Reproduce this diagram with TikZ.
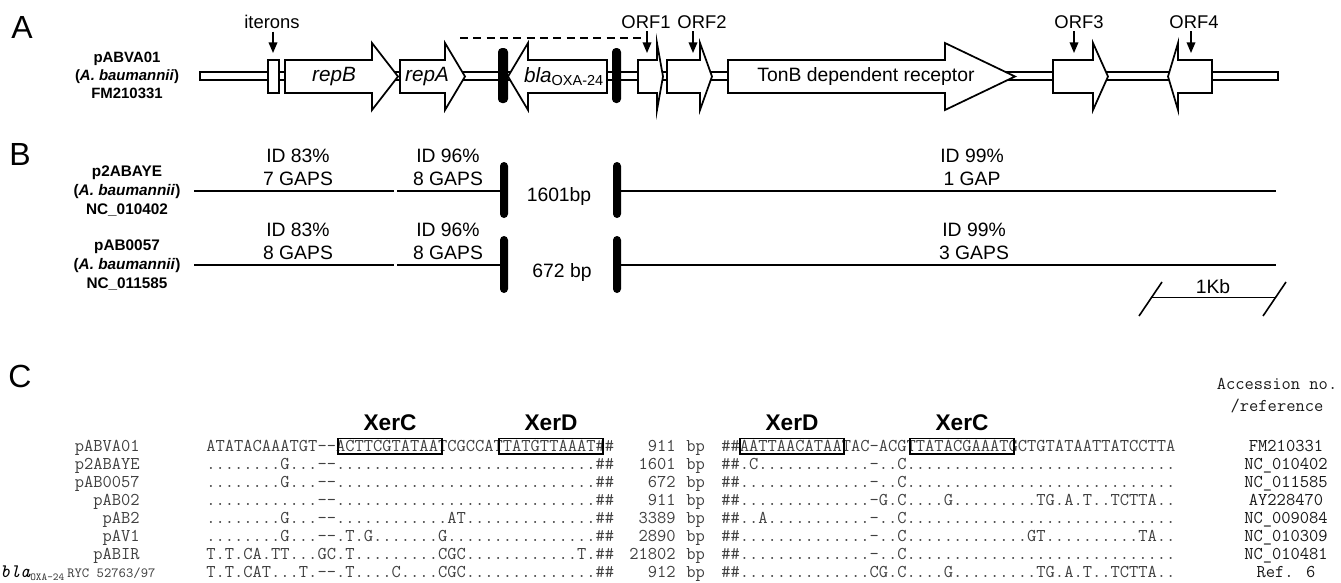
\documentclass[tikz,border=0pt]{standalone}
\usepackage{fontspec}
\setmainfont{Liberation Sans}
\usetikzlibrary{arrows.meta,calc}
\ExplSyntaxOn
\cs_new:Npn \seqdot #1 { \prg_replicate:nn {#1} {.} }
\ExplSyntaxOff
\newcommand\garR[3]{\draw[gene] (#1,60) -- (#2,60) -- (#2,43) -- (#3,76.5) -- (#2,110) -- (#2,93) -- (#1,93) -- cycle;}
\newcommand\garL[3]{\draw[gene] (#3,60) -- (#2,60) -- (#2,43) -- (#1,76.5) -- (#2,110) -- (#2,93) -- (#3,93) -- cycle;}
\tikzset{
 gene/.style={draw=black,line width=1.3pt,fill=white,line join=miter,miter limit=30},
 bb/.style={draw=black,line width=1.1pt,fill=white},
 sitebar/.style={fill=black,rounded corners=3pt},
 toplbl/.style={font=\fontsize{13.8}{16}\selectfont,inner sep=0},
 gtxt/.style={font=\fontsize{15.5}{17}\selectfont,inner sep=0},
 pointer/.style={line width=1.1pt,-{Triangle[length=8pt,width=6.5pt]}},
 plas/.style={font=\fontsize{11.2}{13.5}\selectfont\bfseries,align=center,inner sep=0},
 plasB/.style={font=\fontsize{11.5}{14}\selectfont\bfseries,align=center,inner sep=0},
 panel/.style={font=\fontsize{24}{26}\selectfont,inner sep=0},
 blbl/.style={font=\fontsize{14.5}{17}\selectfont,inner sep=0,align=center},
 bline/.style={line width=1.2pt},
 seq/.style={font=\fontsize{13.5}{15}\selectfont\ttfamily,text=black!75,inner sep=0,anchor=base west},
 seqe/.style={seq,anchor=base east},
 acc/.style={seq,text=black!90,anchor=base},
 sitebox/.style={draw=black,line width=1.4pt},
 xer/.style={font=\fontsize{17}{19}\selectfont\bfseries,inner sep=0},
}
\begin{document}
\begin{tikzpicture}[x=0.75pt,y=-0.75pt]
\useasboundingbox (0,0) rectangle (1341,582);
% ---------- panel letters
\node[panel] (pA) at (22,27) {A};
\node[panel] (pB) at (20,154) {B};
\node[panel] (pC) at (20,376) {C};
% ---------- panel A
\node[plas] (labA) at (127,75.5) {pABVA01\\(\textit{A. baumannii})\\FM210331};
\draw[bb] (200,72) rectangle (1278,80);
\draw[gene] (268,60) rectangle (279,93);
\garR{285}{372}{398}
\garR{400}{445}{465}
\garL{508}{528}{607}
\garR{638}{657}{663}
\garR{667}{700}{712}
\garR{728}{945}{1015}
\garR{1053}{1093}{1108}
\garL{1168}{1178}{1212}
\fill[sitebar] (498,48) rectangle (508,103);
\fill[sitebar] (612,48) rectangle (621,103);
\node[gtxt] (tB) at (334,76.5) {\textit{repB}};
\node[gtxt] (tA) at (427,76.5) {\textit{repA}};
\node[gtxt] (tO) at (564,76.5) {\textit{bla}\textsubscript{OXA-24}};
\node[gtxt,font=\fontsize{14.5}{17}\selectfont] (tT) at (866,76.5) {TonB dependent receptor};
\draw[line width=1.1pt,dash pattern=on 6pt off 4pt] (460,38) -- (643,38);
\node[toplbl] (it) at (272,22) {iterons};
\node[toplbl] (o1) at (646,22) {ORF1};
\node[toplbl] (o2) at (702,22) {ORF2};
\node[toplbl] (o3) at (1079,22) {ORF3};
\node[toplbl] (o4) at (1194,22) {ORF4};
\coordinate (itp) at (273,53);
\coordinate (o1p) at (647,53);
\coordinate (o2p) at (693,53);
\coordinate (o3p) at (1074,53);
\coordinate (o4p) at (1191,53);
\draw[pointer] ([yshift=-2pt]it.south -| itp) -- (itp);
\draw[pointer] ([yshift=-2pt]o1.south -| o1p) -- (o1p);
\draw[pointer] ([yshift=-2pt]o2.south -| o2p) -- (o2p);
\draw[pointer] ([yshift=-2pt]o3.south -| o3p) -- (o3p);
\draw[pointer] ([yshift=-2pt]o4.south -| o4p) -- (o4p);
% ---------- panel B
\node[plasB] (labB1) at (127,191) {p2ABAYE\\(\textit{A. baumannii})\\NC\_010402};
\node[plasB] (labB2) at (127,265) {pAB0057\\(\textit{A. baumannii})\\NC\_011585};
\foreach \y/\t/\b in {191/162/218, 265/236/293}{
  \draw[bline] (194,\y) -- (394,\y);
  \draw[bline] (397,\y) -- (500,\y);
  \draw[bline] (621,\y) -- (1276,\y);
  \fill[sitebar] (500,\t) rectangle (508,\b);
  \fill[sitebar] (613,\t) rectangle (621,\b);
}
\node[blbl] (b11) at (298,167.5) {ID 83\%\\7 GAPS};
\node[blbl] (b12) at (448,167.5) {ID 96\%\\8 GAPS};
\node[blbl] (b13) at (559,196) {1601bp};
\node[blbl] (b14) at (972,167.5) {ID 99\%\\1 GAP};
\node[blbl] (b21) at (298,241.5) {ID 83\%\\8 GAPS};
\node[blbl] (b22) at (448,241.5) {ID 96\%\\8 GAPS};
\node[blbl] (b23) at (562,272) {672 bp};
\node[blbl] (b24) at (974,241.5) {ID 99\%\\3 GAPS};
% scale bar
\node[blbl] (kb) at (1213,287) {1Kb};
\coordinate (sl1a) at (1139,316); \coordinate (sl1b) at (1162,282);
\coordinate (sl2a) at (1263,316); \coordinate (sl2b) at (1286,282);
\draw[bline] (sl1a) -- (sl1b);
\draw[bline] (sl2a) -- (sl2b);
\draw[bline] ($(sl1a)!0.55!(sl1b)$) -- ($(sl2a)!0.55!(sl2b)$);
% ---------- panel C
\node[acc] (h1) at (1277,389) {Accession no.};
\node[acc] (h2) at (1277,411) {/reference};
\node[xer] (xc1) at (390,423) {XerC};
\node[xer] (xd1) at (551,423) {XerD};
\node[xer] (xd2) at (792,423) {XerD};
\node[xer] (xc2) at (962,423) {XerC};
% names
\node[seqe] (n1) at (140,451) {pABVA01};
\node[seqe] (n2) at (140,469.1) {p2ABAYE};
\node[seqe] (n3) at (140,487.2) {pAB0057};
\node[seqe] (n4) at (140,505.3) {pAB02};
\node[seqe] (n5) at (140,523.4) {pAB2};
\node[seqe] (n6) at (140,541.5) {pAV1};
\node[seqe] (n7) at (140,559.6) {pABIR};
\node[seq] (n8) at (0,577.7) {{\color{black}\fontsize{14.3}{15}\selectfont\itshape bla}\raisebox{-2pt}{\fontsize{8}{9}\selectfont OXA-24}\,{\fontsize{10.5}{12}\selectfont RYC 52763/97}};
% left block
\node[seq] (l1) at (206,451) {ATATACAAATGT--ACTTCGTATAATCGCCATTATGTTAAAT\#\#};
\node[seq] (l2) at (206,469.1) {\seqdot{8}G\seqdot{3}--\seqdot{28}\#\#};
\node[seq] (l3) at (206,487.2) {\seqdot{8}G\seqdot{3}--\seqdot{28}\#\#};
\node[seq] (l4) at (206,505.3) {\seqdot{12}--\seqdot{28}\#\#};
\node[seq] (l5) at (206,523.4) {\seqdot{8}G\seqdot{3}--\seqdot{12}AT\seqdot{14}\#\#};
\node[seq] (l6) at (206,541.5) {\seqdot{8}G\seqdot{3}--.T.G\seqdot{7}G\seqdot{16}\#\#};
\node[seq] (l7) at (206,559.6) {T.T.CA.TT...GC.T\seqdot{9}CGC\seqdot{12}T.\#\#};
\node[seq] (l8) at (206,577.7) {T.T.CAT...T.--.T\seqdot{4}C\seqdot{4}CGC\seqdot{14}\#\#};
% lengths
\foreach \n/\y in {911/451,1601/469.1,672/487.2,911/505.3,3389/523.4,2890/541.5,21802/559.6,912/577.7}{
  \node[seqe] at (676,\y) {\n};
  \node[seq] at (686,\y) {bp};
}
% right block
\node[seq] (r1) at (721,451) {\#\#AATTAACATAATAC-ACGTTATACGAAATGCTGTATAATTATCCTTA};
\node[seq] (r2) at (721,469.1) {\#\#.C\seqdot{12}-..C\seqdot{29}};
\node[seq] (r3) at (721,487.2) {\#\#\seqdot{14}-..C\seqdot{29}};
\node[seq] (r4) at (721,505.3) {\#\#\seqdot{14}-G.C\seqdot{4}G\seqdot{9}TG.A.T..TCTTA..};
\node[seq] (r5) at (721,523.4) {\#\#..A\seqdot{11}-..C\seqdot{29}};
\node[seq] (r6) at (721,541.5) {\#\#\seqdot{14}-..C\seqdot{13}GT\seqdot{10}TA..};
\node[seq] (r7) at (721,559.6) {\#\#\seqdot{14}-..C\seqdot{29}};
\node[seq] (r8) at (721,577.7) {\#\#\seqdot{14}CG.C\seqdot{4}G\seqdot{9}TG.A.T..TCTTA..};
% site boxes
\draw[sitebox] (338.3,438.5) rectangle (442.25,454);
\draw[sitebox] (498.95,438.5) rectangle (602.9,454);
\draw[sitebox] (739.9,438.5) rectangle (843.85,454);
\draw[sitebox] (910,438.5) rectangle (1013.95,454);
% accession numbers
\node[acc] (a1) at (1286,451) {FM210331};
\node[acc] (a2) at (1286,469.1) {NC\_010402};
\node[acc] (a3) at (1286,487.2) {NC\_011585};
\node[acc] (a4) at (1286,505.3) {AY228470};
\node[acc] (a5) at (1286,523.4) {NC\_009084};
\node[acc] (a6) at (1286,541.5) {NC\_010309};
\node[acc] (a7) at (1286,559.6) {NC\_010481};
\node[acc] (a8) at (1286,577.7) {Ref. 6};
\end{tikzpicture}
\end{document}
